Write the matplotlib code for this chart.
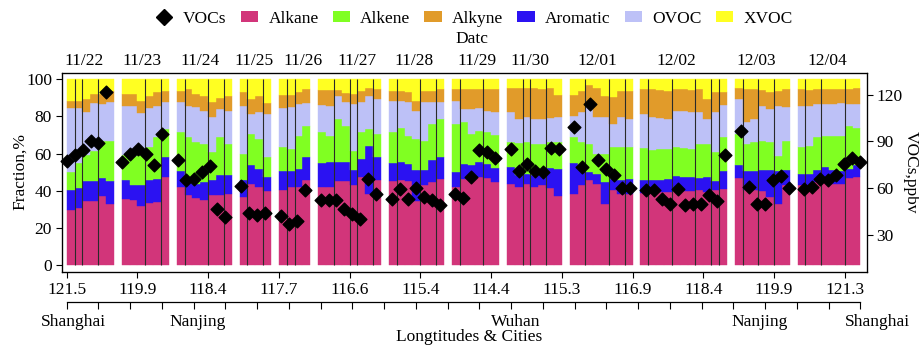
import numpy as np
import matplotlib
matplotlib.use("Agg")
import matplotlib.pyplot as plt
from matplotlib.patches import Patch
from matplotlib.lines import Line2D

plt.rcParams['font.family'] = ['Liberation Serif', 'DejaVu Serif']
plt.rcParams['font.size'] = 12.5

# --- data ---
dates = ["11/22", "11/23", "11/24", "11/25", "11/26", "11/27", "11/28",
         "11/29", "11/30", "12/01", "12/02", "12/03", "12/04"]
bars_per_day = [6, 6, 7, 4, 4, 8, 7, 6, 7, 8, 11, 7, 8]
lon_labels = ["121.5", "119.9", "118.4", "117.7", "116.6", "115.4",
              "114.4", "115.3", "116.9", "118.4", "119.9", "121.3"]
cities = ["Shanghai", "Nanjing", "Wuhan", "Nanjing", "Shanghai"]
# bar index (inside each day) where a dark divider line is drawn
dividers = [[1, 2, 4], [3, 5], [1, 4, 6], [1, 3], [1, 2], [2, 4, 5, 7],
            [1, 4, 6], [1, 4], [2, 3, 5], [2, 5, 7], [1, 4, 7, 9, 10],
            [1, 3, 5], [1, 3, 6]]

# fractions, %
alkane = [29.5, 30.4, 34.3, 34.3, 37.0, 33.0,
          35.4, 34.8, 32.0, 33.4, 34.0, 47.3,
          42.0, 37.5, 36.0, 34.8, 37.5, 37.5, 38.4,
          36.6, 43.8, 42.0, 39.6,
          40.2, 42.0, 42.0, 45.5,
          42.0, 42.0, 45.0, 45.0, 42.9, 47.3, 38.4, 46.0,
          45.0, 45.5, 45.0, 34.3, 42.9, 44.6, 46.4,
          42.0, 46.4, 46.8, 47.3, 46.8, 44.6,
          43.8, 42.0, 43.8, 42.0, 42.9, 41.4, 37.1,
          38.4, 43.2, 46.0, 43.8, 33.0, 40.2, 38.4, 38.4,
          38.9, 39.3, 39.3, 39.3, 40.2, 39.6, 39.6, 40.2, 39.3, 40.2, 41.0,
          46.8, 40.2, 40.2, 39.6, 36.6, 33.0, 42.9,
          42.9, 43.2, 44.6, 44.6, 43.8, 43.8, 46.8, 47.3]
aromatic = [10.7, 11.0, 10.7, 10.7, 9.8, 12.2,
            10.6, 8.4, 10.9, 12.1, 12.4, 10.7,
            8.5, 7.1, 7.8, 9.8, 8.0, 10.7, 9.8,
            8.9, 9.8, 9.4, 7.7,
            10.2, 8.4, 9.4, 12.5,
            13.0, 13.4, 10.7, 10.4, 8.0, 9.7, 25.5, 12.0,
            10.0, 10.2, 9.5, 16.6, 8.0, 11.7, 11.8,
            8.0, 8.1, 7.1, 8.4, 7.7, 7.4,
            8.9, 6.6, 5.3, 6.2, 5.7, 10.6, 14.7,
            16.6, 9.5, 4.0, 5.3, 11.6, 6.2, 7.6, 8.0,
            7.1, 6.2, 6.7, 7.1, 7.7, 7.7, 7.7, 6.6, 8.0, 4.8, 9.4,
            6.8, 10.2, 10.2, 11.3, 14.3, 17.4, 8.0,
            6.2, 5.9, 6.3, 8.1, 7.1, 6.6, 5.0, 6.3]
alkene = [9.8, 13.6, 14.0, 16.6, 20.2, 21.8,
          13.0, 15.3, 17.8, 17.9, 22.4, 15.2,
          21.3, 24.2, 22.2, 20.4, 15.2, 20.6, 16.8,
          14.3, 16.9, 16.5, 10.7,
          13.0, 12.1, 18.2, 16.6,
          16.4, 13.9, 22.9, 19.6, 10.7, 14.4, 9.1, 12.5,
          16.4, 18.3, 15.1, 17.1, 16.1, 19.6, 20.4,
          25.9, 22.5, 16.6, 16.6, 16.9, 18.0,
          13.3, 17.1, 16.9, 17.0, 16.6, 14.0, 14.2,
          13.8, 13.3, 15.2, 10.7, 15.2, 17.0, 17.4, 17.0,
          16.9, 16.6, 16.5, 16.1, 15.5, 15.6, 15.2, 18.4, 17.9, 15.7, 18.4,
          16.9, 14.8, 15.6, 16.0, 15.1, 8.5, 16.0,
          14.3, 14.8, 17.9, 16.6, 18.7, 19.2, 23.2, 20.4]
ovoc = [34.3, 29.3, 23.5, 25.4, 19.6, 20.9,
        26.7, 27.2, 21.3, 20.9, 16.9, 14.7,
        15.7, 16.9, 18.8, 18.0, 18.8, 15.2, 18.0,
        25.9, 10.7, 14.6, 23.2,
        20.9, 22.3, 17.0, 12.5,
        14.6, 16.4, 12.4, 12.5, 25.0, 16.1, 18.0, 18.8,
        17.0, 14.4, 17.9, 15.0, 20.5, 12.0, 8.9,
        12.5, 6.9, 13.4, 12.0, 11.6, 12.5,
        16.5, 12.9, 13.5, 13.4, 13.4, 12.9, 13.5,
        11.6, 16.1, 20.5, 19.7, 19.7, 12.5, 16.1, 15.2,
        18.3, 17.4, 16.4, 16.1, 19.6, 20.1, 20.0, 16.9, 13.4, 21.8, 17.3,
        19.1, 11.6, 12.6, 18.8, 17.9, 26.8, 17.9,
        22.3, 21.8, 17.8, 17.3, 17.0, 17.5, 11.6, 12.6]
alkyne = [4.1, 4.1, 7.1, 5.0, 5.4, 5.9,
          6.3, 6.3, 6.4, 6.7, 7.2, 5.9,
          6.3, 8.9, 7.2, 8.0, 8.0, 6.0, 8.0,
          7.2, 8.4, 8.5, 5.8,
          7.1, 6.6, 6.3, 7.5,
          8.3, 8.6, 3.3, 5.0, 5.4, 6.3, 4.5, 5.3,
          5.4, 5.4, 5.4, 5.4, 6.3, 5.9, 7.1,
          6.2, 10.7, 11.1, 10.7, 12.0, 12.5,
          13.0, 16.9, 16.0, 16.9, 16.4, 16.6, 11.9,
          11.0, 11.3, 11.1, 16.0, 11.5, 14.3, 14.3, 15.2,
          13.4, 15.1, 15.4, 15.2, 12.0, 11.6, 11.8, 12.9, 10.7, 10.7, 7.1,
          5.9, 18.2, 16.0, 8.6, 9.3, 8.1, 9.8,
          8.9, 8.6, 8.4, 8.4, 8.4, 7.9, 8.4, 8.9]
xvoc = [11.6, 11.6, 10.4, 8.0, 8.0, 6.2,
        8.0, 8.0, 11.6, 9.0, 7.1, 6.2,
        6.2, 5.4, 8.0, 9.0, 12.5, 10.0, 9.0,
        7.1, 10.4, 9.0, 13.0,
        8.6, 8.6, 7.1, 5.4,
        5.7, 5.7, 5.7, 7.5, 8.0, 6.2, 4.5, 5.4,
        6.2, 6.2, 7.1, 11.6, 6.2, 6.2, 5.4,
        5.4, 5.4, 5.0, 5.0, 5.0, 5.0,
        4.5, 4.5, 4.5, 4.5, 5.0, 4.5, 8.6,
        8.6, 6.6, 3.2, 4.5, 9.0, 9.8, 6.2, 6.2,
        5.4, 5.4, 5.7, 6.2, 5.0, 5.4, 5.7, 5.0, 10.7, 6.8, 6.8,
        4.5, 5.0, 5.4, 5.7, 6.8, 6.2, 5.4,
        5.4, 5.7, 5.0, 5.0, 5.0, 5.0, 5.0, 4.5]
# total VOCs, ppbv
vocs = [77.2, 81.0, 84.2, 90.2, 89.2, 121.7,
        76.7, 81.7, 84.9, 81.7, 74.6, 94.9,
        77.8, 64.9, 66.0, 70.3, 73.9, 46.7, 41.3,
        61.2, 43.9, 42.5, 43.9,
        42.0, 36.6, 38.8, 58.5,
        52.5, 52.0, 52.0, 46.7, 43.5, 40.3, 66.0, 56.3,
        53.1, 59.6, 53.1, 60.0, 54.2, 52.0, 48.8,
        56.4, 53.6, 67.1, 84.2, 83.1, 79.3,
        84.8, 70.7, 75.6, 70.7, 70.3, 85.7, 85.3,
        99.2, 73.5, 114.2, 77.8, 72.4, 68.6, 60.0, 60.0,
        58.5, 58.5, 53.1, 50.0, 59.2, 48.8, 50.0, 50.0, 55.7, 51.4, 81.5,
        96.4, 60.6, 50.0, 50.0, 64.9, 67.7, 60.0,
        59.2, 60.6, 66.0, 64.9, 68.2, 75.6, 79.3, 76.7]

species = [("Alkane", alkane, "#D2357A"), ("Aromatic", aromatic, "#2B12F2"),
           ("Alkene", alkene, "#80FF22"), ("OVOC", ovoc, "#BDC1F7"),
           ("Alkyne", alkyne, "#E19B2A"), ("XVOC", xvoc, "#FFFF22")]
colors = dict((s[0], s[2]) for s in species)

# x slots: one per sample, one empty slot between days
slots, starts = [], []
pos = 0
for n in bars_per_day:
    starts.append(pos)
    slots.extend(range(pos, pos + n))
    pos += n + 1
slots = np.array(slots)
starts = np.array(starts)

fig = plt.figure(figsize=(9.19, 3.46), dpi=100)
ax = fig.add_axes([61.7 / 919, 1 - 272 / 346, 805 / 919, 198.7 / 346])

bottom = np.zeros(len(slots))
for name, vals, c in species:
    vals = np.array(vals)
    ax.bar(slots, vals, width=1, align='edge', bottom=bottom, color=c,
           edgecolor=c, linewidth=0.3)
    bottom += vals

for s0, divs in zip(starts, dividers):
    for d in divs:
        ax.vlines(s0 + d, 0, 100, color='#2a2a2a', linewidth=0.8)

ax.set_xlim(-0.64, 101.8)
ax.set_ylim(-3.8, 103.2)
ax.set_yticks(range(0, 101, 20))
ax.set_xticks(np.arange(len(lon_labels)) * 9)
ax.set_xticklabels(lon_labels)
ax.tick_params(direction='out', length=4, width=0.8, pad=3)
for sp in ax.spines.values():
    sp.set_linewidth(0.9)

# day labels above the plot (nudged as in the original so they don't collide)
date_x = [2.2, 9.6, 17.0, 23.8, 30.1, 36.9, 44.2, 52.2, 58.9, 67.5, 77.6, 87.7, 96.8]
for x, d in zip(date_x, dates):
    ax.text(x, 1.062, d, transform=ax.get_xaxis_transform(),
            ha='center', va='center')

# VOCs diamonds on right axis
ax2 = ax.twinx()
ax2.scatter(slots * 1.0095, vocs, marker='D', s=42, color='black', zorder=5,
            clip_on=False)
ax2.set_ylim(6, 133.8)
ax2.set_yticks([30, 60, 90, 120])
ax2.tick_params(direction='out', length=4, width=0.8, pad=3)

# second x axis with cities
sec = ax.secondary_xaxis(-0.151)
sec.set_xticks(np.linspace(0, 101, 26))
sec.tick_params(direction='out', length=5, width=0.8, labelbottom=False)
sec.spines['bottom'].set_bounds(0, 101)
sec.spines['bottom'].set_linewidth(0.9)
for name, x in zip(cities, [0.9, 16.6, 57.2, 88.2, 103.2]):
    ax.text(x, -0.25, name, transform=ax.get_xaxis_transform(),
            ha='center', va='center')

fig.text(469 / 919, 1 - 337 / 346, "Longtitudes & Cities", ha='center', va='center')
fig.text(20 / 919, 1 - 172 / 346, "Fraction,%", rotation=90, ha='center', va='center')
fig.text(911 / 919, 1 - 172 / 346, "VOCs,ppbv", rotation=270, ha='center', va='center')
fig.text(472 / 919, 1 - 39 / 346, "Datc", ha='center', va='center')

handles = [Line2D([], [], marker='D', color='black', linestyle='none', markersize=8)]
labels = ["VOCs"]
for name in ["Alkane", "Alkene", "Alkyne", "Aromatic", "OVOC", "XVOC"]:
    handles.append(Patch(facecolor=colors[name], edgecolor='none'))
    labels.append(name)
fig.legend(handles, labels, loc='center', bbox_to_anchor=(474 / 919, 1 - 19 / 346),
           ncol=7, frameon=False, handlelength=1.0, handleheight=0.6,
           handletextpad=0.6, columnspacing=0.8, borderpad=0, borderaxespad=0)

fig.savefig("out.png", dpi=100)
